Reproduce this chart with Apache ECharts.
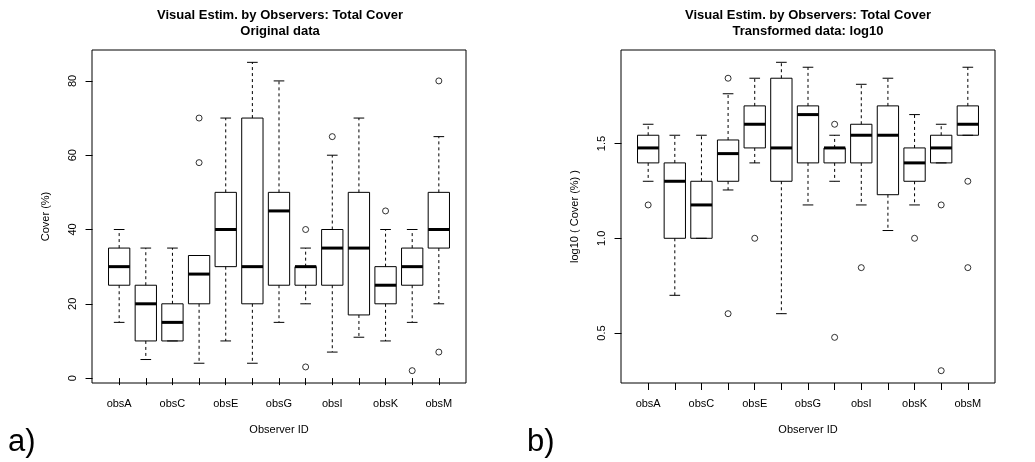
<!DOCTYPE html>
<html>
<head>
<meta charset="utf-8">
<script src="https://cdn.jsdelivr.net/npm/echarts@6.0.0/dist/echarts.min.js"></script>
<style>
  html, body { margin: 0; padding: 0; background: #fff; }
  #chart { width: 1035px; height: 462px; }
</style>
</head>
<body>
<div id="chart"></div>
<script>
// observers (x categories)
var observers = ['obsA', 'obsB', 'obsC', 'obsD', 'obsE', 'obsF', 'obsG', 'obsH', 'obsI', 'obsJ', 'obsK', 'obsL', 'obsM'];

// a) original data: whisker low, Q1, median, Q3, whisker high
var origLow  = [15, 5, 10, 4, 10, 4, 15, 20, 7, 11, 10, 15, 20];
var origQ1   = [25, 10, 10, 20, 30, 20, 25, 25, 25, 17, 20, 25, 35];
var origMed  = [30, 20, 15, 28, 40, 30, 45, 30, 35, 35, 25, 30, 40];
var origQ3   = [35, 25, 20, 33, 50, 70, 50, 30, 40, 50, 30, 35, 50];
var origHigh = [40, 35, 35, 33, 70, 85, 80, 35, 60, 70, 40, 40, 65];
// outliers as [observer position, value]
var origOutliers = [[4, 70], [4, 58], [8, 40], [8, 3], [9, 65], [11, 45], [12, 2], [13, 80], [13, 7]];
var origTicks = [0, 20, 40, 60, 80];

// b) log10 transformed data
var logLow  = [1.301, 0.699, 1.0, 1.255, 1.398, 0.602, 1.176, 1.301, 1.176, 1.041, 1.176, 1.398, 1.544];
var logQ1   = [1.398, 1.0, 1.0, 1.301, 1.477, 1.301, 1.398, 1.398, 1.398, 1.230, 1.301, 1.398, 1.544];
var logMed  = [1.477, 1.301, 1.176, 1.447, 1.602, 1.477, 1.653, 1.477, 1.544, 1.544, 1.398, 1.477, 1.602];
var logQ3   = [1.544, 1.398, 1.301, 1.519, 1.699, 1.845, 1.699, 1.477, 1.602, 1.699, 1.477, 1.544, 1.699];
var logHigh = [1.602, 1.544, 1.544, 1.763, 1.845, 1.929, 1.903, 1.544, 1.813, 1.845, 1.653, 1.602, 1.903];
var logOutliers = [[1, 1.176], [4, 1.845], [4, 0.602], [5, 1.0], [8, 1.602], [8, 0.477], [9, 0.845],
                   [11, 1.0], [12, 1.176], [12, 0.301], [13, 1.301], [13, 0.845]];
var logTicks = [0.5, 1.0, 1.5];

var xTicks = [1, 2, 3, 4, 5, 6, 7, 8, 9, 10, 11, 12, 13];
var xLabelTicks = [1, 3, 5, 7, 9, 11, 13];

var FONT = '"Liberation Sans", Arial, Helvetica, sans-serif';

function boxData(lo, q1, md, q3, hi) {
    var out = [];
    for (var i = 0; i < observers.length; i++) {
        out.push([i + 1, lo[i], q1[i], md[i], q3[i], hi[i]]);
    }
    return out;
}

// draws one R-style box: dashed whiskers, staples, box and thick median
function renderBox(params, api) {
    var x = api.value(0);
    var lo = api.coord([x, api.value(1)]);
    var q1 = api.coord([x, api.value(2)]);
    var md = api.coord([x, api.value(3)]);
    var q3 = api.coord([x, api.value(4)]);
    var hi = api.coord([x, api.value(5)]);
    var w = api.size([0.8, 0])[0];
    var cx = lo[0];
    var solid = { stroke: '#000', lineWidth: 1, fill: null };
    var dash = { stroke: '#000', lineWidth: 1, lineDash: [3, 3], fill: null };
    return {
        type: 'group',
        children: [
            { type: 'line', shape: { x1: cx, y1: q3[1], x2: cx, y2: hi[1] }, style: dash },
            { type: 'line', shape: { x1: cx, y1: q1[1], x2: cx, y2: lo[1] }, style: dash },
            { type: 'line', shape: { x1: cx - w / 4, y1: hi[1], x2: cx + w / 4, y2: hi[1] }, style: solid },
            { type: 'line', shape: { x1: cx - w / 4, y1: lo[1], x2: cx + w / 4, y2: lo[1] }, style: solid },
            { type: 'rect', shape: { x: cx - w / 2, y: q3[1], width: w, height: q1[1] - q3[1] },
              style: { stroke: '#000', lineWidth: 1, fill: 'rgba(0,0,0,0)' } },
            { type: 'line', shape: { x1: cx - w / 2, y1: md[1], x2: cx + w / 2, y2: md[1] },
              style: { stroke: '#000', lineWidth: 3 } }
        ]
    };
}

function xAxisCfg(idx) {
    return {
        type: 'value',
        gridIndex: idx,
        min: -0.02,
        max: 14.02,
        name: 'Observer ID',
        nameLocation: 'middle',
        nameGap: 41,
        nameTextStyle: { color: '#000', fontSize: 11, fontFamily: FONT },
        axisLine: { show: false },
        splitLine: { show: false },
        axisTick: { show: true, length: 7, customValues: xTicks, lineStyle: { color: '#000' } },
        axisLabel: {
            customValues: xLabelTicks,
            margin: 15,
            color: '#000',
            fontSize: 11,
            fontFamily: FONT,
            formatter: function (v) { return observers[Math.round(v) - 1]; }
        }
    };
}

function yAxisCfg(idx, min, max, ticks, name, fmt) {
    return {
        type: 'value',
        gridIndex: idx,
        min: min,
        max: max,
        name: name,
        nameLocation: 'middle',
        nameRotate: 90,
        nameGap: 41,
        nameTextStyle: { color: '#000', fontSize: 11, fontFamily: FONT },
        axisLine: { show: false },
        splitLine: { show: false },
        axisTick: { show: true, length: 7, customValues: ticks, lineStyle: { color: '#000' } },
        axisLabel: {
            customValues: ticks,
            rotate: 90,
            margin: 14,
            color: '#000',
            fontSize: 11,
            fontFamily: FONT,
            formatter: fmt
        }
    };
}

var chart = echarts.init(document.getElementById('chart'), null, { renderer: 'canvas' });

var option = {
    animation: false,
    backgroundColor: '#fff',
    grid: [
        { left: 92, top: 50, width: 374, height: 333, show: true, borderColor: '#000', borderWidth: 1, backgroundColor: 'rgba(0,0,0,0)' },
        { left: 621, top: 50, width: 374, height: 333, show: true, borderColor: '#000', borderWidth: 1, backgroundColor: 'rgba(0,0,0,0)' }
    ],
    xAxis: [xAxisCfg(0), xAxisCfg(1)],
    yAxis: [
        yAxisCfg(0, -1.32, 88.32, origTicks, 'Cover (%)', function (v) { return String(Math.round(v)); }),
        yAxisCfg(1, 0.236, 1.994, logTicks, 'log10 ( Cover (%) )', function (v) { return v.toFixed(1); })
    ],
    graphic: [
        { type: 'text', x: 280, y: 15, style: { text: 'Visual Estim. by Observers: Total Cover', align: 'center', verticalAlign: 'middle', font: 'bold 13px ' + FONT, fill: '#000' } },
        { type: 'text', x: 280, y: 31, style: { text: 'Original data', align: 'center', verticalAlign: 'middle', font: 'bold 13px ' + FONT, fill: '#000' } },
        { type: 'text', x: 808, y: 15, style: { text: 'Visual Estim. by Observers: Total Cover', align: 'center', verticalAlign: 'middle', font: 'bold 13px ' + FONT, fill: '#000' } },
        { type: 'text', x: 808, y: 31, style: { text: 'Transformed data: log10', align: 'center', verticalAlign: 'middle', font: 'bold 13px ' + FONT, fill: '#000' } },
        { type: 'text', x: 8, y: 442, style: { text: 'a)', align: 'left', verticalAlign: 'middle', font: '31px ' + FONT, fill: '#000' } },
        { type: 'text', x: 527, y: 442, style: { text: 'b)', align: 'left', verticalAlign: 'middle', font: '31px ' + FONT, fill: '#000' } }
    ],
    series: [
        {
            type: 'custom',
            xAxisIndex: 0, yAxisIndex: 0,
            renderItem: renderBox,
            encode: { x: 0, y: [1, 2, 3, 4, 5] },
            data: boxData(origLow, origQ1, origMed, origQ3, origHigh)
        },
        {
            type: 'scatter',
            xAxisIndex: 0, yAxisIndex: 0,
            symbol: 'circle',
            symbolSize: 6,
            itemStyle: { color: 'rgba(0,0,0,0)', borderColor: '#000', borderWidth: 1 },
            data: origOutliers
        },
        {
            type: 'custom',
            xAxisIndex: 1, yAxisIndex: 1,
            renderItem: renderBox,
            encode: { x: 0, y: [1, 2, 3, 4, 5] },
            data: boxData(logLow, logQ1, logMed, logQ3, logHigh)
        },
        {
            type: 'scatter',
            xAxisIndex: 1, yAxisIndex: 1,
            symbol: 'circle',
            symbolSize: 6,
            itemStyle: { color: 'rgba(0,0,0,0)', borderColor: '#000', borderWidth: 1 },
            data: logOutliers
        }
    ]
};

chart.setOption(option);
window.addEventListener('resize', function () {
    chart.resize();
});
</script>
</body>
</html>
